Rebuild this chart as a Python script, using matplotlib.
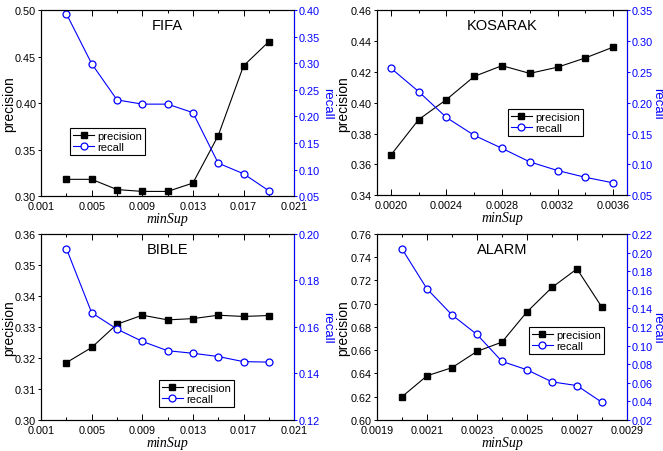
import matplotlib
matplotlib.use("Agg")
import numpy as np
import matplotlib.pyplot as plt
from matplotlib.ticker import MultipleLocator, FormatStrFormatter

plt.rcParams['font.family'] = ['Liberation Sans', 'DejaVu Sans']

# data
fifa_x = [0.003, 0.005, 0.007, 0.009, 0.011, 0.013, 0.015, 0.017, 0.019]
fifa_prec = [0.318, 0.318, 0.307, 0.305, 0.305, 0.314, 0.365, 0.440, 0.466]
fifa_rec = [0.393, 0.299, 0.231, 0.223, 0.223, 0.207, 0.112, 0.092, 0.060]

kos_x = [0.0020, 0.0022, 0.0024, 0.0026, 0.0028, 0.0030, 0.0032, 0.0034, 0.0036]
kos_prec = [0.366, 0.389, 0.402, 0.417, 0.424, 0.419, 0.423, 0.429, 0.436]
kos_rec = [0.256, 0.218, 0.176, 0.147, 0.126, 0.104, 0.090, 0.079, 0.070]

bible_x = [0.003, 0.005, 0.007, 0.009, 0.011, 0.013, 0.015, 0.017, 0.019]
bible_prec = [0.3185, 0.3234, 0.3309, 0.3338, 0.3323, 0.3327, 0.3338, 0.3334, 0.3337]
bible_rec = [0.1937, 0.1661, 0.1591, 0.1538, 0.1498, 0.1487, 0.1473, 0.1451, 0.1449]

alarm_x = [0.0020, 0.0021, 0.0022, 0.0023, 0.0024, 0.0025, 0.0026, 0.0027, 0.0028]
alarm_prec = [0.620, 0.638, 0.645, 0.659, 0.667, 0.693, 0.714, 0.730, 0.697]
alarm_rec = [0.204, 0.161, 0.133, 0.112, 0.083, 0.074, 0.061, 0.057, 0.039]

BLUE = '#0000ff'


def panel(rect, title, x, prec, rec, xlim, xstart, xmaj, xfmt, ylim, ymaj, rlim, rmaj,
          leg_pos, lab_x):
    ax = fig.add_axes(rect)
    ax2 = ax.twinx()
    l1, = ax.plot(x, prec, '-s', color='black', lw=0.8, ms=4.5, label='precision')
    l2, = ax2.plot(x, rec, '-o', color=BLUE, lw=0.8, ms=5, mfc='white', mec=BLUE,
                   mew=0.9, label='recall')
    ax.set_xlim(*xlim)
    ax.set_ylim(*ylim)
    ax2.set_ylim(*rlim)
    major = np.arange(xstart, xlim[1] + xmaj / 10, xmaj)
    ax.set_xticks(major)
    ax.set_xticks(np.arange(xstart + xmaj / 2, xlim[1], xmaj), minor=True)
    ax.xaxis.set_major_formatter(FormatStrFormatter(xfmt))
    ax.yaxis.set_major_locator(MultipleLocator(ymaj))
    ax.yaxis.set_major_formatter(FormatStrFormatter('%.2f'))
    ax2.yaxis.set_major_locator(MultipleLocator(rmaj))
    ax2.yaxis.set_major_formatter(FormatStrFormatter('%.2f'))

    ax.tick_params(axis='x', which='both', direction='in', top=True, labelsize=7.8, pad=3.5)
    ax.tick_params(axis='x', which='major', length=4, width=0.7)
    ax.tick_params(axis='x', which='minor', length=2, width=0.7)
    ax.tick_params(axis='y', direction='out', length=2.5, width=0.7, labelsize=7.8, pad=1)
    ax2.tick_params(axis='y', direction='out', length=2.5, width=0.7, labelsize=7.8, pad=1,
                    colors=BLUE)
    for s in ax.spines.values():
        s.set_linewidth(0.8)
    for s in ax2.spines.values():
        s.set_linewidth(0.8)
    ax2.spines['right'].set_color(BLUE)

    ax.set_ylabel('precision', fontsize=10, va='center')
    ax.yaxis.set_label_coords(lab_x[0], 0.5)
    ax2.set_ylabel('recall', fontsize=9.5, color=BLUE, rotation=270, va='center')
    ax2.yaxis.set_label_coords(lab_x[1], 0.5)
    ax.set_xlabel('minSup', fontsize=10, family='Liberation Serif', style='italic', labelpad=1)
    ax.text(0.5, 0.92, title, transform=ax.transAxes, ha='center', va='center', fontsize=10.5)

    leg = ax2.legend([l1, l2], ['precision', 'recall'], loc='lower left',
                     bbox_to_anchor=leg_pos, fontsize=8, frameon=True, fancybox=False,
                     edgecolor='black', framealpha=1, handlelength=1.9, handletextpad=0.3,
                     borderpad=0.25, labelspacing=0.15, borderaxespad=0)
    leg.get_frame().set_linewidth(0.8)
    return ax


fig = plt.figure(figsize=(6.63, 4.52), dpi=100)

panel([0.062, 0.564, 0.3816, 0.4115], 'FIFA', fifa_x, fifa_prec, fifa_rec,
      (0.001, 0.021), 0.001, 0.004, '%.3f', (0.30, 0.50), 0.05, (0.05, 0.40), 0.05,
      (0.115, 0.22), (-0.126, 1.13))
panel([0.5686, 0.566, 0.377, 0.4093], 'KOSARAK', kos_x, kos_prec, kos_rec,
      (0.0019, 0.0037), 0.0020, 0.0004, '%.4f', (0.34, 0.46), 0.02, (0.05, 0.35), 0.05,
      (0.524, 0.32), (-0.136, 1.122))
panel([0.062, 0.0686, 0.3816, 0.4115], 'BIBLE', bible_x, bible_prec, bible_rec,
      (0.001, 0.021), 0.001, 0.004, '%.3f', (0.30, 0.36), 0.01, (0.12, 0.20), 0.02,
      (0.466, 0.07), (-0.126, 1.13))
panel([0.5686, 0.0686, 0.377, 0.4115], 'ALARM', alarm_x, alarm_prec, alarm_rec,
      (0.0019, 0.0029), 0.0019, 0.0002, '%.4f', (0.60, 0.76), 0.02, (0.02, 0.22), 0.02,
      (0.608, 0.355), (-0.136, 1.122))

fig.savefig('out.png', dpi=100)
